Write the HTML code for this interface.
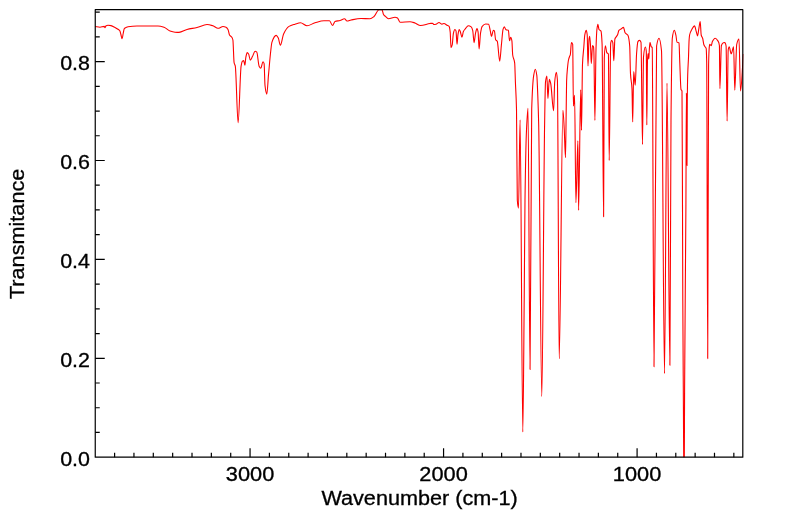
<!DOCTYPE html>
<html><head><meta charset="utf-8"><style>
html,body{margin:0;padding:0;background:#fff;}
svg{display:block;}
text{font-family:"Liberation Sans",sans-serif;font-size:19.4px;fill:#000;stroke:#000;stroke-width:0.3px;}
svg{will-change:transform;}
</style></head><body>
<svg width="799" height="516" viewBox="0 0 799 516">
<defs><clipPath id="c"><rect x="95.25" y="9.7" width="648.15" height="447.50"/></clipPath></defs>
<rect width="799" height="516" fill="#fff"/>
<path clip-path="url(#c)" fill="none" stroke="#ff0000" stroke-width="1.1" stroke-linejoin="round" d="M95.00 26.50C96.67 26.73 98.33 27.20 100.00 27.20C101.40 27.20 102.80 26.40 104.20 26.40C104.47 26.40 104.73 27.80 105.00 27.80C105.27 27.80 105.53 26.19 105.80 26.00C106.53 25.48 107.27 25.20 108.00 25.20C109.00 25.20 110.00 25.40 111.00 25.60C112.33 25.87 113.67 26.79 115.00 27.50C116.00 28.03 117.00 28.59 118.00 29.30C118.60 29.72 119.20 29.96 119.80 30.80C120.17 31.31 120.53 33.23 120.90 34.50C121.30 35.89 121.70 38.80 122.10 38.80C122.47 38.80 122.83 35.20 123.20 33.50C123.57 31.80 123.93 29.02 124.30 28.60C125.03 27.76 125.77 27.61 126.50 27.30C127.00 27.09 127.50 26.88 128.00 26.80C131.00 26.31 134.00 26.00 137.00 26.00C139.67 26.00 142.33 26.00 145.00 26.00C149.33 26.00 153.67 26.00 158.00 26.00C160.00 26.00 162.00 26.59 164.00 27.20C166.00 27.81 168.00 30.31 170.00 31.00C171.67 31.57 173.33 32.07 175.00 32.20C176.33 32.31 177.67 32.40 179.00 32.40C181.67 32.40 184.33 30.19 187.00 29.50C190.33 28.63 193.67 28.30 197.00 27.50C200.33 26.70 203.67 24.50 207.00 24.50C209.00 24.50 211.00 25.19 213.00 25.80C214.67 26.31 216.33 28.30 218.00 28.30C219.67 28.30 221.33 26.50 223.00 26.50C224.00 26.50 225.00 26.79 226.00 27.20C226.67 27.47 227.33 28.30 228.00 29.50C228.50 30.40 229.00 34.17 229.50 35.00C230.33 36.38 231.17 36.18 232.00 37.50C232.30 37.98 232.60 38.60 232.90 40.00C233.30 41.87 233.70 60.68 234.10 62.70C234.50 64.72 234.90 64.35 235.30 66.20C236.23 70.53 237.17 122.80 238.10 122.80C239.10 122.80 240.10 72.35 241.10 66.20C241.50 63.74 241.90 61.66 242.30 61.30C242.77 60.88 243.23 60.60 243.70 60.60C244.10 60.60 244.50 65.30 244.90 65.30C245.20 65.30 245.50 59.04 245.80 57.50C246.27 55.10 246.73 52.60 247.20 52.60C247.67 52.60 248.13 53.28 248.60 54.00C249.17 54.87 249.73 60.10 250.30 60.10C251.00 60.10 251.70 57.86 252.40 56.60C253.30 54.98 254.20 51.30 255.10 51.30C255.67 51.30 256.23 51.67 256.80 52.20C257.57 52.92 258.33 64.68 259.10 66.20C259.67 67.33 260.23 68.30 260.80 68.30C261.50 68.30 262.20 61.80 262.90 61.80C263.30 61.80 263.70 62.42 264.10 63.60C264.40 64.48 264.70 82.79 265.00 85.40C265.60 90.62 266.20 94.10 266.80 94.10C267.37 94.10 267.93 81.11 268.50 74.90C269.27 66.50 270.03 57.03 270.80 50.50C271.17 47.38 271.53 43.52 271.90 42.40C273.33 38.03 274.77 35.40 276.20 35.40C276.90 35.40 277.60 36.80 278.30 38.10C279.00 39.40 279.70 45.20 280.40 45.20C281.47 45.20 282.53 36.11 283.60 33.90C285.40 30.17 287.20 27.46 289.00 26.40C291.00 25.23 293.00 24.82 295.00 24.20C296.83 23.63 298.67 22.70 300.50 22.70C302.67 22.70 304.83 25.70 307.00 25.70C309.67 25.70 312.33 23.54 315.00 22.80C318.00 21.97 321.00 20.80 324.00 20.80C325.83 20.80 327.67 20.80 329.50 20.80C330.50 20.80 331.50 25.50 332.50 25.50C333.33 25.50 334.17 21.82 335.00 21.50C336.67 20.85 338.33 20.94 340.00 20.50C341.50 20.11 343.00 18.80 344.50 18.80C345.33 18.80 346.17 21.00 347.00 21.00C348.33 21.00 349.67 20.26 351.00 20.00C354.33 19.35 357.67 18.50 361.00 18.50C364.00 18.50 367.00 18.70 370.00 18.70C371.33 18.70 372.67 17.53 374.00 16.50C375.67 15.21 377.33 9.70 379.00 9.70C380.00 9.70 381.00 9.70 382.00 9.70C382.50 9.70 383.00 13.74 383.50 14.50C384.00 15.26 384.50 15.56 385.00 16.00C386.17 17.03 387.33 18.70 388.50 18.70C390.67 18.70 392.83 17.20 395.00 17.20C395.83 17.20 396.67 17.55 397.50 18.00C398.33 18.45 399.17 22.20 400.00 22.20C403.33 22.20 406.67 21.70 410.00 21.70C411.67 21.70 413.33 22.45 415.00 23.00C416.83 23.60 418.67 25.50 420.50 25.50C423.67 25.50 426.83 23.96 430.00 23.50C430.83 23.38 431.67 23.20 432.50 23.20C433.00 23.20 433.50 24.50 434.00 24.50C434.67 24.50 435.33 24.35 436.00 24.20C437.00 23.97 438.00 22.50 439.00 22.50C440.00 22.50 441.00 24.20 442.00 24.20C442.67 24.20 443.33 23.50 444.00 23.50C445.00 23.50 446.00 24.66 447.00 25.20C447.70 25.58 448.40 25.57 449.10 26.30C449.47 26.68 449.83 28.96 450.20 32.10C450.47 34.39 450.73 47.80 451.00 47.80C451.40 47.80 451.80 46.45 452.20 44.90C452.60 43.35 453.00 34.94 453.40 33.30C453.90 31.25 454.40 29.50 454.90 29.50C455.27 29.50 455.63 30.04 456.00 30.90C456.33 31.69 456.67 44.30 457.00 44.30C457.33 44.30 457.67 36.35 458.00 34.40C458.40 32.06 458.80 29.50 459.20 29.50C459.57 29.50 459.93 30.63 460.30 31.50C460.83 32.77 461.37 37.30 461.90 37.30C462.40 37.30 462.90 32.56 463.40 31.50C464.03 30.16 464.67 29.57 465.30 28.80C466.30 27.59 467.30 25.70 468.30 25.70C469.27 25.70 470.23 26.17 471.20 26.90C471.70 27.28 472.20 28.49 472.70 30.30C473.17 31.99 473.63 42.60 474.10 42.60C474.57 42.60 475.03 35.30 475.50 33.30C476.00 31.16 476.50 28.60 477.00 28.60C477.37 28.60 477.73 30.11 478.10 32.10C478.43 33.90 478.77 49.00 479.10 49.00C479.57 49.00 480.03 36.15 480.50 33.30C481.07 29.83 481.63 27.00 482.20 26.30C483.37 24.86 484.53 24.00 485.70 24.00C486.67 24.00 487.63 24.06 488.60 24.20C489.17 24.28 489.73 28.47 490.30 30.90C490.70 32.62 491.10 36.50 491.50 36.50C492.10 36.50 492.70 30.30 493.30 30.30C493.67 30.30 494.03 30.53 494.40 30.90C494.80 31.30 495.20 38.96 495.60 39.70C496.17 40.74 496.73 40.43 497.30 41.40C498.10 42.77 498.90 61.20 499.70 61.20C500.27 61.20 500.83 50.23 501.40 44.90C501.97 39.57 502.53 30.93 503.10 29.20C503.50 27.98 503.90 26.90 504.30 26.90C504.87 26.90 505.43 29.58 506.00 29.80C506.80 30.11 507.60 29.93 508.40 30.30C508.77 30.47 509.13 40.80 509.50 40.80C509.90 40.80 510.30 37.30 510.70 37.30C511.10 37.30 511.50 38.70 511.90 40.80C512.17 42.20 512.43 53.07 512.70 55.00C513.37 59.83 514.03 57.77 514.70 63.10C514.93 64.97 515.17 76.05 515.40 82.10C515.77 91.60 516.13 93.84 516.50 109.20C516.77 120.37 517.03 196.39 517.30 200.00C517.70 205.42 518.10 208.10 518.50 208.10C519.03 208.10 519.57 119.80 520.10 119.80C521.00 119.80 521.90 432.00 522.80 432.00C523.27 432.00 523.73 350.81 524.20 300.00C524.47 270.97 524.73 219.00 525.00 200.00C525.50 164.37 526.00 141.04 526.50 130.00C527.00 118.96 527.50 108.30 528.00 108.30C528.68 108.30 529.37 369.40 530.05 369.40C530.60 369.40 531.15 126.19 531.70 109.00C532.37 88.16 533.03 79.35 533.70 75.30C534.23 72.06 534.77 69.20 535.30 69.20C535.80 69.20 536.30 71.75 536.80 75.30C537.13 77.67 537.47 87.31 537.80 95.70C538.10 103.26 538.40 111.86 538.70 125.00C539.73 170.25 540.77 396.50 541.80 396.50C542.73 396.50 543.67 181.36 544.60 125.00C544.90 106.88 545.20 84.65 545.50 82.10C545.97 78.13 546.43 76.00 546.90 76.00C547.23 76.00 547.57 98.40 547.90 98.40C548.37 98.40 548.83 79.40 549.30 79.40C549.77 79.40 550.23 81.54 550.70 83.50C551.67 87.57 552.63 110.80 553.60 110.80C553.97 110.80 554.33 85.88 554.70 82.10C555.23 76.60 555.77 72.30 556.30 72.30C556.67 72.30 557.03 75.42 557.40 80.00C558.00 87.49 558.60 358.80 559.20 358.80C560.43 358.80 561.67 110.30 562.90 110.30C563.33 110.30 563.77 120.88 564.20 128.30C564.63 135.72 565.07 157.50 565.50 157.50C565.73 157.50 565.97 126.35 566.20 110.00C566.33 100.66 566.47 84.75 566.60 81.20C566.90 73.21 567.20 71.12 567.50 68.00C567.83 64.53 568.17 61.56 568.50 60.00C568.87 58.29 569.23 57.37 569.60 56.40C569.83 55.78 570.07 55.64 570.30 54.80C570.67 53.47 571.03 42.60 571.40 42.60C571.83 42.60 572.27 43.09 572.70 44.40C572.93 45.10 573.17 106.00 573.40 106.00C573.80 106.00 574.20 95.30 574.60 95.30C575.03 95.30 575.47 202.70 575.90 202.70C576.57 202.70 577.23 140.70 577.90 140.70C578.13 140.70 578.37 210.40 578.60 210.40C579.30 210.40 580.00 89.70 580.70 89.70C580.97 89.70 581.23 130.30 581.50 130.30C581.83 130.30 582.17 71.39 582.50 64.00C582.93 54.39 583.37 52.79 583.80 47.30C584.13 43.08 584.47 36.53 584.80 34.80C585.27 32.38 585.73 30.40 586.20 30.40C586.53 30.40 586.87 32.08 587.20 34.80C587.47 36.97 587.73 66.00 588.00 66.00C588.33 66.00 588.67 41.15 589.00 39.00C589.23 37.49 589.47 36.30 589.70 36.30C590.00 36.30 590.30 42.44 590.60 47.30C590.83 51.08 591.07 63.50 591.30 63.50C591.70 63.50 592.10 45.50 592.50 45.50C592.83 45.50 593.17 45.90 593.50 46.80C593.63 47.16 593.77 49.68 593.90 52.60C594.23 59.89 594.57 120.40 594.90 120.40C595.27 120.40 595.63 61.28 596.00 49.40C596.30 39.68 596.60 32.05 596.90 29.50C597.23 26.66 597.57 24.30 597.90 24.30C598.27 24.30 598.63 28.96 599.00 29.50C599.67 30.48 600.33 30.01 601.00 31.10C601.37 31.70 601.73 36.60 602.10 44.20C602.60 54.56 603.10 216.70 603.60 216.70C603.83 216.70 604.07 63.01 604.30 57.80C604.67 49.62 605.03 45.80 605.40 45.80C605.87 45.80 606.33 51.86 606.80 52.60C607.33 53.45 607.87 52.98 608.40 54.10C608.67 54.66 608.93 160.50 609.20 160.50C609.70 160.50 610.20 45.73 610.70 43.10C611.03 41.34 611.37 40.20 611.70 40.20C612.07 40.20 612.43 41.15 612.80 42.60C613.13 43.92 613.47 60.80 613.80 60.80C614.17 60.80 614.53 40.12 614.90 39.00C615.33 37.67 615.77 37.57 616.20 36.90C616.67 36.17 617.13 35.77 617.60 34.80C618.03 33.89 618.47 30.91 618.90 30.40C619.60 29.58 620.30 29.46 621.00 29.00C621.83 28.46 622.67 27.40 623.50 27.40C624.03 27.40 624.57 32.00 625.10 32.80C626.03 34.19 626.97 33.77 627.90 35.30C628.50 36.28 629.10 39.30 629.70 46.00C629.97 48.98 630.23 69.49 630.50 73.90C631.00 82.18 631.50 80.00 632.00 89.00C632.23 93.20 632.47 122.00 632.70 122.00C633.03 122.00 633.37 71.60 633.70 71.60C634.20 71.60 634.70 85.20 635.20 85.20C635.67 85.20 636.13 59.16 636.60 53.20C637.03 47.67 637.47 42.22 637.90 41.60C638.43 40.84 638.97 40.40 639.50 40.40C640.00 40.40 640.50 41.02 641.00 42.20C641.50 43.38 642.00 144.50 642.50 144.50C642.83 144.50 643.17 60.80 643.50 57.00C644.10 50.16 644.70 47.00 645.30 47.00C645.63 47.00 645.97 48.25 646.30 51.50C646.47 53.13 646.63 125.00 646.80 125.00C647.03 125.00 647.27 64.44 647.50 60.00C647.70 56.20 647.90 53.50 648.10 53.50C648.33 53.50 648.57 59.00 648.80 59.00C648.97 59.00 649.13 52.29 649.30 50.00C649.53 46.80 649.77 42.40 650.00 42.40C650.40 42.40 650.80 45.99 651.20 46.60C651.53 47.11 651.87 46.99 652.20 47.60C652.80 48.69 653.40 366.70 654.00 366.70C654.87 366.70 655.73 51.35 656.60 46.00C657.40 41.06 658.20 38.30 659.00 38.30C659.83 38.30 660.67 43.01 661.50 50.70C662.50 59.93 663.50 373.50 664.50 373.50C665.33 373.50 666.17 83.20 667.00 83.20C667.97 83.20 668.93 365.30 669.90 365.30C670.27 365.30 670.63 156.52 671.00 120.00C671.43 76.84 671.87 41.82 672.30 38.30C672.97 32.89 673.63 30.20 674.30 30.20C674.83 30.20 675.37 32.93 675.90 35.20C676.27 36.76 676.63 41.80 677.00 42.10C677.67 42.65 678.33 42.29 679.00 42.90C679.27 43.14 679.53 56.70 679.80 63.00C680.20 72.44 680.60 88.41 681.00 89.50C681.33 90.41 681.67 89.88 682.00 91.00C682.17 91.56 682.33 162.23 682.50 207.00C682.60 233.86 682.70 277.02 682.80 300.00C682.97 338.30 683.13 361.78 683.30 388.00C683.57 429.95 683.83 500.00 684.10 500.00C684.27 500.00 684.43 417.47 684.60 388.00C684.93 329.05 685.27 294.00 685.60 248.00C685.70 234.20 685.80 223.74 685.90 207.00C686.07 179.10 686.23 93.00 686.40 93.00C686.60 93.00 686.80 165.40 687.00 165.40C687.10 165.40 687.20 109.98 687.30 100.00C687.43 86.70 687.57 79.58 687.70 75.00C687.97 65.83 688.23 64.12 688.50 57.40C688.70 52.36 688.90 42.93 689.10 40.00C689.27 37.56 689.43 35.77 689.60 35.00C690.30 31.79 691.00 30.95 691.70 29.70C692.63 28.03 693.57 25.90 694.50 25.90C695.13 25.90 695.77 30.07 696.40 32.10C696.80 33.38 697.20 35.90 697.60 35.90C697.97 35.90 698.33 31.74 698.70 29.70C699.20 26.92 699.70 21.50 700.20 21.50C700.53 21.50 700.87 33.61 701.20 35.00C701.70 37.09 702.20 36.86 702.70 38.50C703.10 39.81 703.50 43.77 703.90 44.80C704.27 45.75 704.63 46.09 705.00 46.70C705.40 47.36 705.80 47.24 706.20 48.60C706.37 49.17 706.53 54.50 706.70 62.00C707.03 77.00 707.37 358.60 707.70 358.60C708.00 358.60 708.30 79.81 708.60 65.00C708.80 55.13 709.00 50.31 709.20 48.00C709.37 46.08 709.53 44.30 709.70 44.30C709.93 44.30 710.17 44.61 710.40 44.80C710.67 45.02 710.93 45.60 711.20 45.60C711.60 45.60 712.00 42.38 712.40 41.60C713.30 39.85 714.20 38.20 715.10 38.20C716.03 38.20 716.97 39.45 717.90 40.90C718.40 41.67 718.90 41.99 719.40 45.50C719.57 46.67 719.73 88.60 719.90 88.60C720.40 88.60 720.90 46.90 721.40 45.50C722.03 43.72 722.67 42.95 723.30 42.80C723.80 42.68 724.30 42.60 724.80 42.60C725.23 42.60 725.67 43.72 726.10 46.00C726.43 47.76 726.77 121.10 727.10 121.10C727.47 121.10 727.83 52.20 728.20 50.00C728.53 48.00 728.87 46.80 729.20 46.80C729.87 46.80 730.53 53.80 731.20 53.80C732.00 53.80 732.80 46.80 733.60 46.80C734.00 46.80 734.40 90.20 734.80 90.20C735.43 90.20 736.07 47.33 736.70 44.50C737.47 41.08 738.23 39.00 739.00 39.00C739.50 39.00 740.00 91.00 740.50 91.00C741.47 91.00 742.43 66.33 743.40 54.00"/>
<path d="M114.60 457.2V452.70M133.95 457.2V452.70M153.30 457.2V452.70M172.66 457.2V452.70M192.01 457.2V452.70M211.36 457.2V452.70M230.71 457.2V452.70M250.06 457.2V448.20M269.41 457.2V452.70M288.76 457.2V452.70M308.11 457.2V452.70M327.47 457.2V452.70M346.82 457.2V452.70M366.17 457.2V452.70M385.52 457.2V452.70M404.87 457.2V452.70M424.22 457.2V452.70M443.57 457.2V448.20M462.92 457.2V452.70M482.28 457.2V452.70M501.63 457.2V452.70M520.98 457.2V452.70M540.33 457.2V452.70M559.68 457.2V452.70M579.03 457.2V452.70M598.38 457.2V452.70M617.73 457.2V452.70M637.09 457.2V448.20M656.44 457.2V452.70M675.79 457.2V452.70M695.14 457.2V452.70M714.49 457.2V452.70M733.84 457.2V452.70M95.25 432.47H99.75M95.25 407.75H99.75M95.25 383.02H99.75M95.25 358.30H104.75M95.25 333.57H99.75M95.25 308.85H99.75M95.25 284.12H99.75M95.25 259.40H104.75M95.25 234.67H99.75M95.25 209.95H99.75M95.25 185.22H99.75M95.25 160.50H104.75M95.25 135.77H99.75M95.25 111.05H99.75M95.25 86.32H99.75M95.25 61.60H104.75M95.25 36.87H99.75M95.25 12.15H99.75" stroke="#000" stroke-width="1.2" fill="none"/>
<rect x="95.25" y="9.7" width="647.55" height="447.50" fill="none" stroke="#000" stroke-width="1.2" stroke-linejoin="round"/>
<text x="90.0" y="465.80" text-anchor="end" textLength="29.8" lengthAdjust="spacingAndGlyphs">0.0</text>
<text x="90.0" y="366.90" text-anchor="end" textLength="29.8" lengthAdjust="spacingAndGlyphs">0.2</text>
<text x="90.0" y="268.00" text-anchor="end" textLength="29.8" lengthAdjust="spacingAndGlyphs">0.4</text>
<text x="90.0" y="169.10" text-anchor="end" textLength="29.8" lengthAdjust="spacingAndGlyphs">0.6</text>
<text x="90.0" y="70.20" text-anchor="end" textLength="29.8" lengthAdjust="spacingAndGlyphs">0.8</text>
<text x="250.06" y="480.7" text-anchor="middle" textLength="48.4" lengthAdjust="spacingAndGlyphs">3000</text>
<text x="443.57" y="480.7" text-anchor="middle" textLength="48.4" lengthAdjust="spacingAndGlyphs">2000</text>
<text x="637.09" y="480.7" text-anchor="middle" textLength="48.4" lengthAdjust="spacingAndGlyphs">1000</text>
<text x="419.6" y="504.6" text-anchor="middle" textLength="196.4" lengthAdjust="spacingAndGlyphs">Wavenumber (cm-1)</text>
<text transform="translate(23.8 233.9) rotate(-90)" x="0" y="0" text-anchor="middle" textLength="130.4" lengthAdjust="spacingAndGlyphs">Transmitance</text>
</svg>
</body></html>
